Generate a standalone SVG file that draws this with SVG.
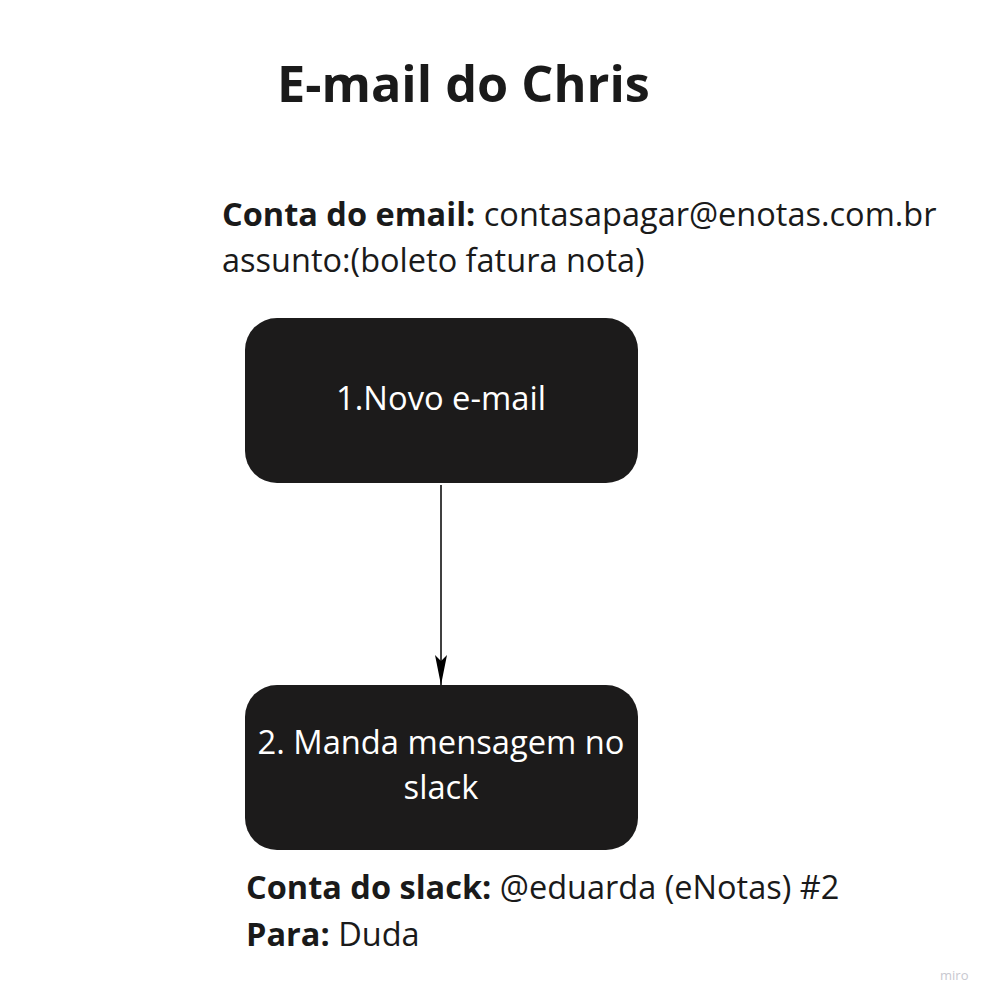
<svg xmlns="http://www.w3.org/2000/svg" width="995" height="1004" viewBox="0 0 995 1004">
<style>
text{font-family:"Open Sans","Noto Sans",sans-serif;fill:#1a1a1a}
.b{font-weight:700}
.node rect{fill:#1c1b1b}
.node text{fill:#ffffff;font-size:32.7px;text-anchor:middle}
.lbl{font-size:32.5px}
</style>
<defs>
<marker id="ah" viewBox="0 0 30 12" refX="30" refY="6" markerWidth="30" markerHeight="12" markerUnits="userSpaceOnUse" orient="auto">
<path d="M0,0 L30,6 L0,12 L6,6 Z" fill="#000"/>
</marker>
</defs>
<rect width="995" height="1004" fill="#fff"/>
<text class="b" x="277" y="102" font-size="50.4">E-mail do Chris</text>
<text class="lbl" x="222" y="226"><tspan class="b">Conta do email:</tspan> contasapagar@enotas.com.br</text>
<text class="lbl" x="222" y="272">assunto:(boleto fatura nota)</text>
<g id="n1" class="node"><rect x="245" y="318" width="393" height="165" rx="32"/><text x="441" y="410">1.Novo e-mail</text></g>
<g id="n2" class="node"><rect x="245" y="685" width="393" height="165" rx="32"/><text x="441" y="754">2. Manda mensagem no</text><text x="441" y="799">slack</text></g>
<g id="connectors"><line x1="441" y1="485" x2="441" y2="685" stroke="#000" stroke-width="1.5" marker-end="url(#ah)"/></g>
<text class="lbl" x="246" y="899"><tspan class="b">Conta do slack:</tspan> @eduarda (eNotas) #2</text>
<text class="lbl" x="246" y="946"><tspan class="b">Para:</tspan> Duda</text>
<text x="940" y="980" font-size="13" style="fill:#c8c8d0">miro</text>
</svg>
